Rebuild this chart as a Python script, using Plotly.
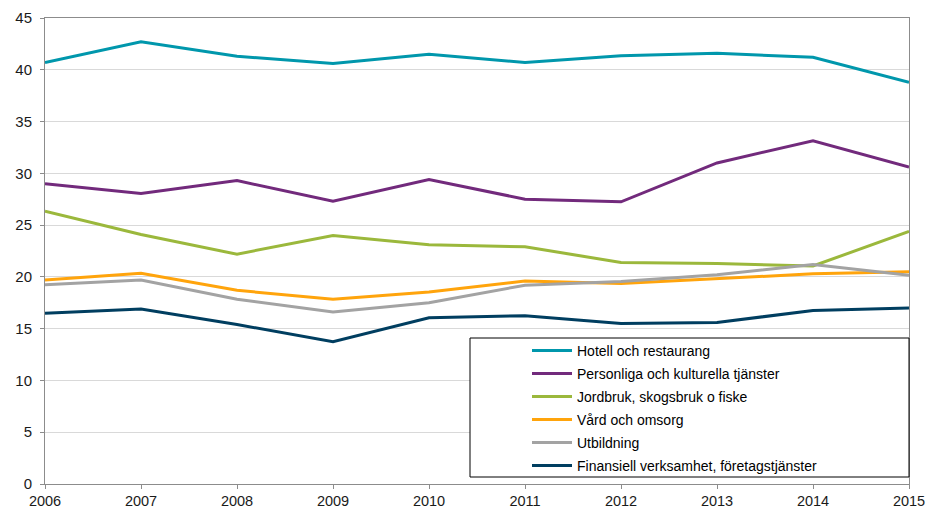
import plotly.graph_objects as go

years = [2006, 2007, 2008, 2009, 2010, 2011, 2012, 2013, 2014, 2015]
names = [
    "Hotell och restaurang",
    "Personliga och kulturella tjänster",
    "Jordbruk, skogsbruk o fiske",
    "Vård och omsorg",
    "Utbildning",
    "Finansiell verksamhet, företagstjänster",
]
hotell = [40.7, 42.7, 41.3, 40.6, 41.5, 40.7, 41.35, 41.6, 41.2, 38.8]
personliga = [29.0, 28.05, 29.3, 27.3, 29.4, 27.5, 27.25, 31.0, 33.15, 30.6]
jordbruk = [26.35, 24.1, 22.2, 24.0, 23.1, 22.9, 21.4, 21.3, 21.05, 24.4]
vard = [19.7, 20.35, 18.7, 17.85, 18.55, 19.6, 19.35, 19.85, 20.3, 20.5]
utbildning = [19.25, 19.7, 17.85, 16.6, 17.5, 19.2, 19.55, 20.2, 21.2, 20.15]
finansiell = [16.5, 16.9, 15.4, 13.75, 16.05, 16.25, 15.5, 15.6, 16.75, 17.0]

series = [hotell, personliga, jordbruk, vard, utbildning, finansiell]
colors = ["#0097AC", "#722A7C", "#9BB83C", "#FFA40C", "#A3A3A3", "#003E60"]

fig = go.Figure()
for i, (n, s, c) in enumerate(zip(names, series, colors)):
    fig.add_trace(go.Scatter(x=years, y=s, name=n, mode="lines",
                             line=dict(color=c, width=3), legendgroup=str(i)))

W, H = 927, 508
L, R, T, B = 45, 18, 18, 24
pw, ph = W - L - R, H - T - B

def px(xp):
    return (xp - L) / pw

def py(yp):
    return (H - B - yp) / ph

fig.add_shape(type="rect", xref="paper", yref="paper",
              x0=px(470), x1=px(909), y0=py(477), y1=py(338),
              line=dict(color="#000000", width=1), fillcolor="white", layer="above")

fig.update_layout(
    template="none",
    width=W, height=H,
    margin=dict(l=L, r=R, t=T, b=B, autoexpand=False),
    paper_bgcolor="white", plot_bgcolor="white",
    font=dict(family="Liberation Sans, Arial, sans-serif", size=15, color="#1a1a1a"),
    showlegend=True,
    legend=dict(x=px(527), y=py(335), xanchor="left", yanchor="top",
                bgcolor="rgba(0,0,0,0)", borderwidth=0,
                traceorder="grouped", tracegroupgap=1.8, itemwidth=40,
                font=dict(size=14, color="#000000")),
    xaxis=dict(range=[2006, 2015], tickmode="array", tickvals=years,
               ticktext=[str(y) for y in years], automargin=False,
               showgrid=False, zeroline=False,
               showline=True, linecolor="#8C8C8C", linewidth=1, mirror=True,
               ticks="outside", ticklen=4, tickcolor="#8C8C8C",
               tickfont=dict(size=14.5), ticklabelstandoff=0),
    yaxis=dict(range=[0, 45], tickmode="array", tickvals=list(range(0, 46, 5)),
               automargin=False,
               showgrid=True, gridcolor="#D9D9D9", gridwidth=1, zeroline=False,
               showline=True, linecolor="#8C8C8C", linewidth=1, mirror=True,
               ticks="outside", ticklen=4, tickcolor="#8C8C8C",
               ticklabelstandoff=5),
)

fig.write_html("out.html", config={"displayModeBar": False},
               post_script="document.body.style.margin='0';document.body.style.overflow='hidden';")
